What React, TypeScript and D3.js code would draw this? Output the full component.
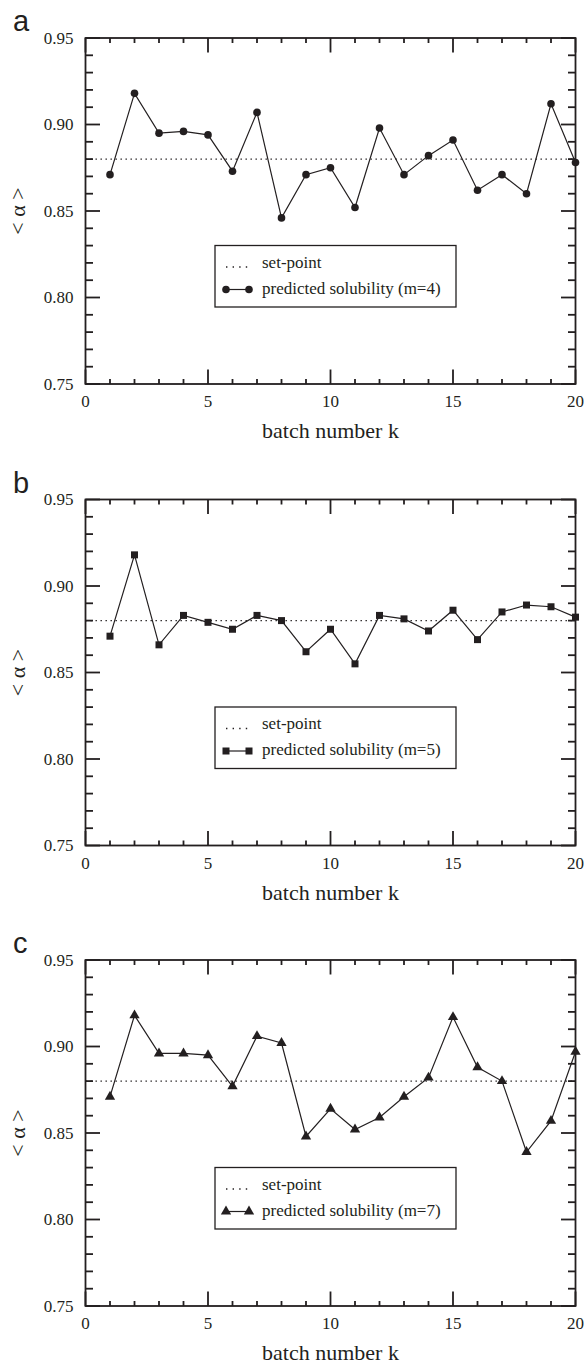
import React from 'react';
import * as d3 from 'd3';

const batches = [1, 2, 3, 4, 5, 6, 7, 8, 9, 10, 11, 12, 13, 14, 15, 16, 17, 18, 19, 20];
const seriesA = [0.871, 0.918, 0.895, 0.896, 0.894, 0.873, 0.907, 0.846, 0.871, 0.875, 0.852, 0.898, 0.871, 0.882, 0.891, 0.862, 0.871, 0.860, 0.912, 0.878];
const seriesB = [0.871, 0.918, 0.866, 0.883, 0.879, 0.875, 0.883, 0.880, 0.862, 0.875, 0.855, 0.883, 0.881, 0.874, 0.886, 0.869, 0.885, 0.889, 0.888, 0.882];
const seriesC = [0.871, 0.918, 0.896, 0.896, 0.895, 0.877, 0.906, 0.902, 0.848, 0.864, 0.852, 0.859, 0.871, 0.882, 0.917, 0.888, 0.880, 0.839, 0.857, 0.897];
const setPoint = 0.88;
const xTicks = [0, 5, 10, 15, 20];
const yTicks = [0.75, 0.8, 0.85, 0.9, 0.95];
const panelLetters = ['a', 'b', 'c'];
const legendNames = ['predicted solubility (m=4)', 'predicted solubility (m=5)', 'predicted solubility (m=7)'];
const markerShapes = ['circle', 'square', 'triangle'];
const setPointLabel = 'set-point';
const xLabel = 'batch number k';
const yLabel = '< \u03b1 >';

const W = 585;
const H = 1365;
const LEFT = 85.5;
const RIGHT = 575.5;
const PLOT_H = 346;
const TOPS = [38, 499.5, 960];
const INK = '#231f20';
const SERIF = '"Liberation Serif", "Times New Roman", serif';
const SANS = '"Liberation Sans", Arial, sans-serif';

function Marker({ shape, cx, cy }: { shape: string; cx: number; cy: number }) {
  if (shape === 'circle') return <circle cx={cx} cy={cy} r={3.8} fill={INK} />;
  if (shape === 'square') return <rect x={cx - 3.5} y={cy - 3.5} width={7} height={7} fill={INK} />;
  const p = d3.symbol().type(d3.symbolTriangle).size(46)() as string;
  return <path d={p} transform={`translate(${cx},${cy})`} fill={INK} />;
}

function Panel({ idx, values }: { idx: number; values: number[] }) {
  const top = TOPS[idx];
  const bottom = top + PLOT_H;
  const x = d3.scaleLinear().domain([0, 20]).range([LEFT, RIGHT]);
  const y = d3.scaleLinear().domain([0.75, 0.95]).range([bottom, top]);
  const line = d3
    .line<number>()
    .x((_, i) => x(batches[i]))
    .y((d) => y(d));
  const xMinor = d3.range(0, 21, 1);
  const yMinor = d3.range(0, 21, 1).map((i) => 0.75 + i * 0.01);
  const isMajorX = (v: number) => Math.abs(v % 5) < 1e-6;
  const isMajorY = (v: number) => Math.abs(Math.round(v * 100) % 5) < 1e-6;
  const lgX = 215;
  const lgY = top + 207.5;
  const shape = markerShapes[idx];
  return (
    <g>
      <text x={13} y={top - 7} fontFamily={SANS} fontSize={29} fill={INK}>
        {panelLetters[idx]}
      </text>
      {/* set-point */}
      <line x1={LEFT} x2={RIGHT} y1={y(setPoint)} y2={y(setPoint)} stroke={INK} strokeWidth={1.3} strokeDasharray="1.4 3.6" />
      {/* data line */}
      <path d={line(values) as string} fill="none" stroke={INK} strokeWidth={1.2} />
      {values.map((v, i) => (
        <Marker key={i} shape={shape} cx={x(batches[i])} cy={y(v)} />
      ))}
      {/* ticks */}
      {xMinor.map((v) => {
        const len = isMajorX(v) ? 14.5 : 5;
        return (
          <g key={'x' + v}>
            <line x1={x(v)} x2={x(v)} y1={bottom} y2={bottom - len} stroke={INK} strokeWidth={1.8} />
            <line x1={x(v)} x2={x(v)} y1={top} y2={top + len} stroke={INK} strokeWidth={1.8} />
          </g>
        );
      })}
      {yMinor.map((v, i) => {
        const len = isMajorY(v) ? 14.5 : 7.5;
        return (
          <g key={'y' + i}>
            <line x1={LEFT} x2={LEFT + len} y1={y(v)} y2={y(v)} stroke={INK} strokeWidth={1.8} />
            <line x1={RIGHT} x2={RIGHT - len} y1={y(v)} y2={y(v)} stroke={INK} strokeWidth={1.8} />
          </g>
        );
      })}
      <rect x={LEFT} y={top} width={RIGHT - LEFT} height={PLOT_H} fill="none" stroke={INK} strokeWidth={1.8} />
      {/* tick labels */}
      {xTicks.map((v) => (
        <text key={'xl' + v} x={x(v)} y={bottom + 23} textAnchor="middle" fontFamily={SERIF} fontSize={17} fill={INK}>
          {v}
        </text>
      ))}
      {yTicks.map((v) => (
        <text key={'yl' + v} x={LEFT - 12} y={y(v)} dy="0.35em" textAnchor="end" fontFamily={SERIF} fontSize={17} fill={INK}>
          {v.toFixed(2)}
        </text>
      ))}
      <text x={(LEFT + RIGHT) / 2} y={bottom + 54} textAnchor="middle" fontFamily={SERIF} fontSize={22} fill={INK}>
        {xLabel}
      </text>
      <text
        transform={`translate(25,${(top + bottom) / 2}) rotate(-90)`}
        textAnchor="middle"
        fontFamily={SERIF}
        fontSize={22}
        fill={INK}
      >
        {yLabel}
      </text>
      {/* legend */}
      <rect x={lgX} y={lgY} width={241} height={61.5} fill="#fff" stroke={INK} strokeWidth={1.3} />
      <line x1={226} x2={249} y1={top + 229} y2={top + 229} stroke={INK} strokeWidth={1.3} strokeDasharray="1.4 5.2" />
      <text x={262} y={top + 229.5} fontFamily={SERIF} fontSize={17} fill={INK}>
        {setPointLabel}
      </text>
      <line x1={226} x2={249} y1={top + 251.5} y2={top + 251.5} stroke={INK} strokeWidth={1.2} />
      <Marker shape={shape} cx={226} cy={top + 251.5} />
      <Marker shape={shape} cx={249} cy={top + 251.5} />
      <text x={262} y={top + 255.5} fontFamily={SERIF} fontSize={17} fill={INK}>
        {legendNames[idx]}
      </text>
    </g>
  );
}

export default function App() {
  const all = [seriesA, seriesB, seriesC];
  return (
    <svg width={W} height={H} style={{ position: 'absolute', left: 0, top: 0, background: '#fff' }}>
      <rect width={W} height={H} fill="#fff" />
      {all.map((s, i) => (
        <Panel key={i} idx={i} values={s} />
      ))}
    </svg>
  );
}
